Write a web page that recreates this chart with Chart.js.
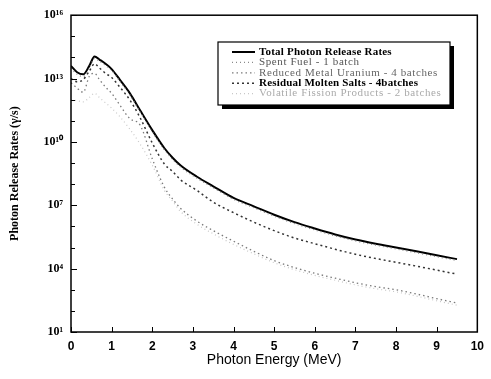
<!DOCTYPE html>
<html>
<head>
<meta charset="utf-8">
<script src="https://cdn.jsdelivr.net/npm/chart.js@4.4.0/dist/chart.umd.min.js"></script>
<style>
html,body{margin:0;padding:0;background:#fff}
#wrap{width:491px;height:379px}
</style>
</head>
<body>
<div id="wrap"><canvas id="c" width="491" height="379"></canvas></div>
<script>
// photon energy (MeV) and release rates as log10 exponents
const energy=[0,0.15,0.3,0.45,0.58,0.7,0.85,1.0,1.2,1.45,1.7,2.0,2.3,2.5,2.7,3.1,3.5,4.0,4.5,5.0,5.5,6.0,6.5,7.0,7.5,8.0,8.5,9.0,9.5];
const totalExp=[13.6,13.3,13.2,13.6,14.05,13.9,13.7,13.45,12.95,12.3,11.5,10.56,9.7,9.25,8.88,8.35,7.9,7.35,6.95,6.55,6.2,5.9,5.62,5.38,5.18,5.0,4.82,4.63,4.45];
const spentExp=[13.5,13.2,13.1,13.5,13.95,13.82,13.62,13.38,12.88,12.22,11.42,10.48,9.62,9.17,8.8,8.28,7.83,7.28,6.88,6.48,6.13,5.83,5.55,5.31,5.11,4.93,4.75,4.56,4.38];
const reducedExp=[12.8,12.55,12.35,13.1,13.25,12.95,12.6,12.3,11.75,11.1,10.8,9.2,7.85,7.3,6.85,6.25,5.8,5.3,4.82,4.38,4.05,3.78,3.55,3.33,3.15,3.0,2.8,2.58,2.37];
const residualExp=[13.0,12.85,12.95,13.35,13.7,13.5,13.25,13.05,12.6,11.98,11.15,9.95,8.95,8.6,8.2,7.7,7.15,6.65,6.2,5.8,5.45,5.18,4.92,4.68,4.48,4.3,4.12,3.93,3.74];
const volatileExp=[12.0,11.95,11.9,12.1,12.3,12.1,11.85,11.6,11.2,10.6,9.9,8.9,7.7,7.2,6.7,6.1,5.65,5.15,4.7,4.28,3.95,3.68,3.45,3.23,3.05,2.9,2.7,2.48,2.27];
const seriesNames=['Total Photon Release Rates','Spent Fuel - 1 batch','Reduced Metal Uranium - 4 batches','Residual Molten Salts - 4batches','Volatile Fission Products - 2 batches'];
const yLabelExp=[1,4,7,10,13,16];
const xTicks=[0,1,2,3,4,5,6,7,8,9,10];

const SUP={'0':'⁰','1':'¹','2':'²','3':'³','4':'⁴','5':'⁵','6':'⁶','7':'⁷','8':'⁸','9':'⁹'};
const sup=n=>String(n).split('').map(d=>SUP[d]).join('');
const pts=arr=>arr.map((v,i)=>({x:energy[i],y:Math.pow(10,v)}));

const styles=[
  {color:'#000',width:2,dash:[],text:'#000',bold:true},
  {color:'#8a8a8a',width:1.2,dash:[1,3],text:'#555',bold:false},
  {color:'#7a7a7a',width:1.3,dash:[1.5,3],text:'#666',bold:false},
  {color:'#333',width:1.5,dash:[2,3],text:'#000',bold:true},
  {color:'#c8c8c8',width:1.2,dash:[1,3],text:'#aaa',bold:false}
];
const series=[totalExp,spentExp,reducedExp,residualExp,volatileExp];

const datasets=series.map((s,i)=>({
  label:seriesNames[i],
  data:pts(s),
  borderColor:styles[i].color,
  borderWidth:styles[i].width,
  borderDash:styles[i].dash,
  pointRadius:0,
  cubicInterpolationMode:'monotone',
  fill:false
})).reverse();

const frame={
  id:'frame',
  afterDraw(chart){
    const {ctx,chartArea:a,scales}=chart;
    ctx.save();
    ctx.strokeStyle='#000';
    ctx.lineWidth=1.5;
    ctx.strokeRect(a.left,a.top,a.right-a.left,a.bottom-a.top);
    ctx.lineWidth=1;
    // inward ticks
    for(let k=1;k<=16;k++){
      const y=Math.round(scales.y.getPixelForValue(Math.pow(10,k)))+0.5;
      const len=yLabelExp.includes(k)?6:4;
      ctx.beginPath();ctx.moveTo(a.left,y);ctx.lineTo(a.left+len,y);ctx.stroke();
    }
    xTicks.forEach(v=>{
      const x=Math.round(scales.x.getPixelForValue(v))+0.5;
      ctx.beginPath();ctx.moveTo(x,a.bottom);ctx.lineTo(x,a.bottom-5);ctx.stroke();
    });
    // legend box
    const bx=218,by=42,bw=232,bh=63;
    ctx.fillStyle='#000';
    ctx.fillRect(bx+4,by+4,bw,bh);
    ctx.fillStyle='#fff';
    ctx.fillRect(bx,by,bw,bh);
    ctx.strokeStyle='#000';
    ctx.lineWidth=1.2;
    ctx.strokeRect(bx,by,bw,bh);
    seriesNames.forEach((name,i)=>{
      const st=styles[i];
      const y=by+10+i*10.4;
      ctx.strokeStyle=st.color;
      ctx.lineWidth=st.width;
      ctx.setLineDash(st.dash);
      ctx.beginPath();ctx.moveTo(bx+14,y);ctx.lineTo(bx+37,y);ctx.stroke();
      ctx.setLineDash([]);
      ctx.fillStyle=st.text;
      ctx.font=(st.bold?'bold ':'')+'11px "Liberation Serif"';
      ctx.letterSpacing=st.bold?'0.2px':'0.6px';
      ctx.textBaseline='middle';
      ctx.fillText(name,bx+41,y);
    });
    ctx.restore();
  }
};

new Chart(document.getElementById('c'),{
  type:'line',
  data:{datasets},
  options:{
    responsive:false,
    animation:false,
    layout:{padding:{top:15,right:6,left:0,bottom:0}},
    plugins:{legend:{display:false},tooltip:{enabled:false}},
    scales:{
      x:{
        type:'linear',min:0,max:10,
        afterBuildTicks:s=>{s.ticks=xTicks.map(v=>({value:v}));},
        afterFit:s=>{s.height=47;},
        grid:{drawOnChartArea:false,drawTicks:false},
        border:{display:false},
        ticks:{color:'#000',padding:7,maxRotation:0,font:{family:'"Liberation Sans"',size:12,weight:'bold'}},
        title:{display:true,text:'Photon Energy (MeV)',color:'#000',padding:{top:0,bottom:10},font:{family:'"Liberation Sans"',size:14}}
      },
      y:{
        type:'logarithmic',min:10,max:1e16,
        afterBuildTicks:s=>{const t=[];for(let k=1;k<=16;k++)t.push({value:Math.pow(10,k)});s.ticks=t;},
        afterFit:s=>{s.width=71;},
        grid:{drawOnChartArea:false,drawTicks:false},
        border:{display:false},
        ticks:{
          color:'#000',padding:8,autoSkip:false,
          font:{family:'"Liberation Serif"',size:12,weight:'bold'},
          callback:v=>{const k=Math.round(Math.log10(v));return yLabelExp.includes(k)?'10'+sup(k):'';}
        },
        title:{display:true,text:'Photon Release Rates (γ/s)',color:'#000',padding:{top:8,bottom:0},font:{family:'"Liberation Serif"',size:12,weight:'bold'}}
      }
    }
  },
  plugins:[frame]
});
</script>
</body>
</html>
